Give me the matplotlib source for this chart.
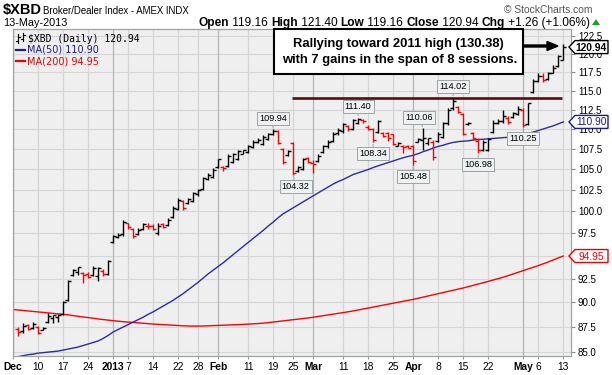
import matplotlib
matplotlib.use("Agg")
import matplotlib.pyplot as plt
from matplotlib.transforms import IdentityTransform
from matplotlib.patches import Polygon, Rectangle, FancyArrow
from matplotlib.lines import Line2D
from matplotlib.ticker import FixedLocator, FixedFormatter, NullLocator
import numpy as np
import pandas as pd

W, H = 612, 375
FONT = "Liberation Sans"

# ---------------- data ----------------
holidays = ["2012-12-25", "2013-01-01", "2013-01-21", "2013-02-18", "2013-03-29"]
dates = [d for d in pd.bdate_range("2012-12-03", "2013-05-13")
         if d.strftime("%Y-%m-%d") not in holidays]          # 111 sessions, Dec 3 .. May 13

first_prev_close = 87.4   # Dec 3 close (bar itself sits on the frame edge)

# OHLC from Dec 4 2012 to May 13 2013
opens = [87.3, 87.1, 87.7, 87.4, 87.5, 87.2, 88.0, 88.4, 88.5, 88.8,
         90.2, 92.9, 93.2, 93.1, 93.0, 92.9, 92.8, 93.3, 93.0, 96.5,
         97.1, 97.4, 98.6, 98.0, 97.4, 98.0, 98.35, 98.3, 97.5, 98.5,
         98.4, 99.3, 100.3, 101.2, 101.0, 101.2, 102.0, 102.6, 103.8, 104.0,
         105.2, 105.2, 105.4, 105.9, 106.3, 106.9, 107.1, 107.7, 108.3, 108.1,
         108.7, 109.3, 109.7, 107.5, 106.7, 108.2, 104.8, 105.0, 106.4, 105.8,
         106.0, 107.1, 107.8, 108.5, 109.5, 109.8, 110.4, 110.0, 110.8, 111.2,
         110.3, 110.0, 109.6, 109.5, 109.5, 109.3, 107.9, 107.9, 107.9, 107.8,
         108.4, 108.6, 108.2, 108.3, 108.5, 109.0, 110.7, 112.7, 112.8, 111.9,
         110.6, 109.5, 108.5, 107.4, 107.4, 109.6, 110.7, 111.0, 111.4, 111.5,
         111.9, 112.5, 110.6, 114.8, 116.3, 117.0, 116.5, 117.4, 118.3, 119.16]
highs = [87.45, 87.9, 87.8, 88.0, 87.6, 87.5, 88.9, 88.7, 88.75, 90.1,
         92.3, 93.5, 93.8, 93.2, 93.2, 93.9, 93.7, 93.5, 94.5, 97.3,
         97.5, 99.0, 98.7, 98.1, 98.1, 98.7, 98.6, 98.5, 98.6, 98.7,
         99.2, 100.6, 101.5, 101.3, 101.5, 102.3, 102.6, 104.1, 104.5, 105.1,
         106.3, 105.4, 106.8, 107.0, 107.4, 107.4, 108.0, 108.6, 108.8, 109.2,
         109.5, 109.94, 109.9, 107.6, 107.3, 108.4, 105.4, 106.4, 106.5, 106.1,
         106.8, 108.0, 108.6, 109.6, 110.1, 110.8, 110.5, 111.3, 111.40, 111.3,
         110.5, 110.1, 111.2, 109.6, 109.6, 109.4, 108.4, 108.0, 108.0, 108.0,
         108.9, 110.06, 108.9, 108.6, 109.6, 110.9, 112.7, 114.02, 112.9, 112.0,
         110.9, 109.6, 108.9, 108.6, 108.8, 111.2, 111.3, 112.5, 111.7, 112.2,
         112.9, 112.7, 113.4, 116.6, 117.3, 117.3, 117.5, 118.4, 119.8, 121.40]
lows = [86.55, 86.9, 87.2, 87.3, 86.8, 87.15, 87.9, 87.9, 88.0, 88.7,
        90.1, 92.8, 92.9, 92.0, 92.6, 92.8, 92.2, 92.8, 92.9, 96.4,
        97.0, 97.2, 98.0, 97.0, 97.3, 97.9, 98.0, 97.8, 97.3, 98.1,
        98.3, 99.2, 100.2, 100.1, 100.9, 101.1, 101.8, 102.5, 103.7, 103.9,
        105.1, 104.8, 105.3, 105.8, 106.1, 106.8, 107.0, 107.6, 108.2, 108.0,
        108.6, 109.2, 108.1, 105.6, 106.6, 104.32, 104.6, 104.9, 105.8, 104.5,
        105.9, 107.0, 107.6, 108.4, 109.2, 109.5, 109.7, 109.9, 110.6, 110.8,
        109.9, 108.34, 109.5, 109.0, 108.5, 108.0, 107.8, 107.0, 107.6, 105.48,
        108.3, 107.4, 108.0, 106.1, 108.4, 108.8, 110.5, 112.5, 112.0, 109.2,
        110.5, 108.6, 106.98, 107.2, 107.2, 109.5, 110.6, 110.8, 110.6, 111.4,
        111.8, 110.25, 110.5, 114.7, 116.2, 116.1, 116.4, 117.3, 118.2, 119.16]
closes = [86.95, 87.6, 87.3, 87.8, 86.9, 87.4, 88.6, 88.65, 88.7, 90.0,
          92.2, 93.4, 93.7, 92.9, 92.7, 93.6, 93.65, 93.0, 94.4, 97.2,
          97.3, 98.8, 98.2, 97.2, 97.9, 98.5, 98.3, 98.0, 98.3, 98.2,
          99.0, 100.4, 101.3, 100.4, 101.4, 102.1, 102.5, 103.9, 104.3, 104.9,
          106.2, 105.1, 106.6, 106.8, 107.2, 107.3, 107.9, 108.4, 108.6, 109.0,
          109.3, 109.8, 108.2, 105.9, 107.2, 104.5, 105.2, 106.2, 105.9, 105.6,
          106.6, 107.9, 108.3, 109.4, 109.9, 110.6, 110.0, 111.1, 111.3, 111.0,
          110.0, 108.6, 111.0, 109.1, 108.9, 108.1, 108.2, 107.7, 107.6, 106.0,
          108.7, 108.8, 108.85, 106.5, 109.4, 110.7, 112.5, 113.6, 112.2, 109.4,
          110.8, 108.8, 107.3, 108.4, 108.7, 110.8, 111.0, 111.6, 110.9, 112.0,
          112.6, 110.5, 113.3, 116.3, 117.0, 116.4, 117.3, 118.0, 119.68, 120.94]

# moving averages, Dec 3 .. May 13
ma50 = [84.4, 84.5, 84.6, 84.7, 84.75, 84.85, 84.9, 84.95, 85.0, 85.05,
        85.15, 85.25, 85.35, 85.45, 85.6, 85.75, 85.9, 86.05, 86.3, 86.6,
        86.95, 87.2, 87.45, 87.7, 87.95, 88.2, 88.45, 88.75, 89.0, 89.3,
        89.6, 89.9, 90.2, 90.55, 90.9, 91.3, 91.7, 92.1, 92.55, 93.0,
        93.4, 93.8, 94.2, 94.65, 95.1, 95.55, 96.0, 96.45, 96.9, 97.35,
        97.8, 98.3, 98.75, 99.25, 99.7, 100.05, 100.4, 100.75, 101.1, 101.45,
        101.8, 102.15, 102.5, 102.85, 103.2, 103.5, 103.75, 104.05, 104.35, 104.55,
        104.75, 104.95, 105.2, 105.4, 105.6, 105.8, 106.0, 106.2, 106.4, 106.55,
        106.7, 106.9, 107.15, 107.35, 107.6, 107.8, 107.95, 108.15, 108.3, 108.4,
        108.45, 108.5, 108.6, 108.65, 108.7, 108.75, 108.8, 108.85, 108.9, 108.95,
        109.0, 109.15, 109.3, 109.45, 109.6, 109.8, 110.0, 110.2, 110.4, 110.65,
        110.90]
ma200 = [89.25, 89.2, 89.15, 89.1, 89.05, 89.0, 88.95, 88.9, 88.85, 88.8,
         88.75, 88.7, 88.62, 88.55, 88.48, 88.42, 88.35, 88.28, 88.22, 88.16,
         88.1, 88.05, 88.0, 87.96, 87.92, 87.88, 87.84, 87.8, 87.76, 87.73,
         87.7, 87.67, 87.64, 87.61, 87.58, 87.56, 87.55, 87.55, 87.56, 87.58,
         87.6, 87.62, 87.64, 87.66, 87.68, 87.7, 87.72, 87.75, 87.78, 87.81,
         87.85, 87.9, 87.96, 88.02, 88.08, 88.14, 88.2, 88.26, 88.32, 88.38,
         88.45, 88.53, 88.61, 88.69, 88.77, 88.85, 88.93, 89.01, 89.1, 89.2,
         89.3, 89.4, 89.5, 89.6, 89.7, 89.8, 89.9, 90.0, 90.1, 90.2,
         90.3, 90.42, 90.54, 90.66, 90.78, 90.9, 91.02, 91.14, 91.26, 91.38,
         91.5, 91.64, 91.78, 91.92, 92.06, 92.2, 92.35, 92.5, 92.65, 92.82,
         93.0, 93.18, 93.36, 93.54, 93.72, 93.9, 94.1, 94.3, 94.52, 94.74,
         94.95]

tick_dates = ["2012-12-03", "2012-12-10", "2012-12-17", "2012-12-24", "2013-01-02",
              "2013-01-07", "2013-01-14", "2013-01-22", "2013-01-28", "2013-02-01",
              "2013-02-11", "2013-02-19", "2013-02-25", "2013-03-01", "2013-03-11",
              "2013-03-18", "2013-03-25", "2013-04-01", "2013-04-08", "2013-04-15",
              "2013-04-22", "2013-05-01", "2013-05-06", "2013-05-13"]
tick_labels = ["Dec", "10", "17", "24", "2013", "7", "14", "22", "28", "Feb",
               "11", "19", "25", "Mar", "11", "18", "25", "Apr", "8", "15",
               "22", "May", "6", "13"]
bold_labels = {"Dec", "2013", "Feb", "Mar", "Apr", "May"}
y_ticks = [85.0, 87.5, 90.0, 92.5, 95.0, 97.5, 100.0, 102.5, 105.0, 107.5,
           110.0, 112.5, 115.0, 117.5, 120.0, 122.5]
hidden_y_labels = {95.0}   # covered by the MA(200) value tag

# (date, which) price call-outs
callouts = [("2013-02-19", "high"), ("2013-02-25", "low"), ("2013-03-14", "high"),
            ("2013-03-19", "low"), ("2013-04-01", "low"), ("2013-04-03", "high"),
            ("2013-04-11", "high"), ("2013-04-18", "low"), ("2013-05-01", "low")]
resistance = 114.02
resistance_span = ("2013-02-22", "2013-05-10")

note_lines = ["Rallying toward 2011 high (130.38)",
              "with 7 gains in the span of 8 sessions."]

# ---------------- figure ----------------
fig = plt.figure(figsize=(W / 100, H / 100), dpi=100)
fig.patch.set_facecolor("white")
ax = fig.add_axes([13 / W, 1 - 356 / H, (571 - 13) / W, (356 - 29) / H])
ax.set_facecolor("#efefef")

date_str = [d.strftime("%Y-%m-%d") for d in dates]
pos = {s: i for i, s in enumerate(date_str)}
xs = np.arange(len(dates))
bx = xs[1:]

prev = [first_prev_close] + closes[:-1]
cols = ["black" if c > p else "#ff0000" for c, p in zip(closes, prev)]

ax.set_yscale("log")
ax.set_ylim(84.57, 123.5)
ax.set_xlim(0, 111.55)

# grid
for t in y_ticks:
    ax.axhline(t, color="#d6d6d6", lw=0.8, zorder=0)
for d, lab in zip(tick_dates, tick_labels):
    c = "#b4b4b4" if lab in bold_labels else "#d6d6d6"
    ax.axvline(pos[d], color=c, lw=0.9, zorder=0)

# moving averages
ax.plot(xs, ma200, color="#ff0000", lw=1.0, zorder=2)
ax.plot(xs, ma50, color="#2b2ba8", lw=1.0, zorder=2)

# resistance line
ax.hlines(resistance, pos[resistance_span[0]] + 0.7, pos[resistance_span[1]] + 0.7,
          color="#5a0c0c", lw=1.9, zorder=3)

# OHLC bars
lw_bar = 1.0
tick_len = 0.55
ax.vlines(bx, lows, highs, colors=cols, lw=lw_bar, zorder=4)
ax.hlines(opens, bx - tick_len, bx, colors=cols, lw=lw_bar, zorder=4)
ax.hlines(closes, bx, bx + tick_len, colors=cols, lw=lw_bar, zorder=4)

# axes styling
ax.yaxis.tick_right()
ax.yaxis.set_major_locator(FixedLocator(y_ticks))
ax.yaxis.set_major_formatter(FixedFormatter(
    ["" if t in hidden_y_labels else f"{t:.1f}" for t in y_ticks]))
ax.yaxis.set_minor_locator(NullLocator())
ax.tick_params(axis="y", which="major", length=3, color="#888888", pad=2,
               labelsize=7.0, labelcolor="black")
ax.set_xticks([pos[d] for d in tick_dates])
ax.set_xticklabels(tick_labels)
for lab in ax.get_xticklabels():
    lab.set_fontfamily(FONT)
    lab.set_fontsize(7.4)
    if lab.get_text() in bold_labels:
        lab.set_fontweight("bold")
for lab in ax.get_yticklabels():
    lab.set_fontfamily(FONT)
ax.tick_params(axis="x", length=2, color="#999999", pad=2)
for s in ax.spines.values():
    s.set_color("#9aa6a4")
    s.set_linewidth(0.9)

# price call-outs
for d, which in callouts:
    i = pos[d]
    val = highs[i - 1] if which == "high" else lows[i - 1]
    dx = {"2013-04-03": -4, "2013-02-25": 2.5}.get(d, 0)
    dy = 8.2 if which == "high" else -8.2
    ax.annotate(f"{val:.2f}", xy=(i, val), xytext=(dx * 0.72, dy),
                textcoords="offset points", ha="center", va="center",
                fontsize=6.6, fontfamily=FONT, zorder=6,
                bbox=dict(boxstyle="square,pad=0.22", fc="#eef2f2", ec="#9aa4a4", lw=0.7),
                arrowprops=dict(arrowstyle="-", color="#9aa4a4", lw=0.7,
                                shrinkA=0, shrinkB=1.5))

fig.canvas.draw()
renderer = fig.canvas.get_renderer()
ID = IdentityTransform()


def ytop(y):
    return H - y


def segs(x, y, parts, size, ha="left"):
    """draw text segments side by side; parts = (text, weight, color)"""
    arts = []
    widths = []
    for txt, wt, col in parts:
        t = fig.text(0, 0, txt, transform=ID, fontsize=size, fontweight=wt,
                     color=col, fontfamily=FONT, va="baseline")
        arts.append(t)
        widths.append(t.get_window_extent(renderer).width)
    total = sum(widths)
    cx = x - total if ha == "right" else x
    for t, w in zip(arts, widths):
        t.set_position((cx, ytop(y)))
        cx += w
    return cx


# header
segs(3, 14, [("$XBD", "bold", "black")], 10.5)
segs(43, 14, [("Broker/Dealer Index - AMEX INDX", "normal", "black")], 6.9)
segs(592, 13, [("\u00a9 StockCharts.com", "normal", "#555555")], 7.4, ha="right")
segs(3, 26, [("13-May-2013", "normal", "black")], 7.8)
segs(590, 26, [("Open", "bold", "black"), (" 119.16 ", "normal", "black"),
               ("High", "bold", "black"), (" 121.40 ", "normal", "black"),
               ("Low", "bold", "black"), (" 119.16 ", "normal", "black"),
               ("Close", "bold", "black"), (" 120.94 ", "normal", "black"),
               ("Chg", "bold", "black"), (" +1.26 (+1.06%)", "normal", "black")],
     8.6, ha="right")
fig.add_artist(Polygon([(592, ytop(25)), (600, ytop(25)), (596, ytop(19))],
                       closed=True, transform=ID, fc="#11aa11", ec="none"))

# legend inside plot
icon = [((18, 34), (18, 43)), ((16, 41), (18, 41)), ((18, 37), (20, 37)),
        ((23, 33), (23, 41)), ((21, 39), (23, 39)), ((23, 35), (25, 35))]
for (x0, y0), (x1, y1) in icon:
    fig.add_artist(Line2D([x0, x1], [ytop(y0), ytop(y1)], transform=ID,
                          color="black", lw=0.8))
fig.text(28, ytop(42), "$XBD (Daily) 120.94", transform=ID, fontsize=7.0,
         fontfamily="DejaVu Sans Mono", va="baseline", color="black")
fig.add_artist(Line2D([16, 25], [ytop(49.5), ytop(49.5)], transform=ID,
                      color="#1c1c96", lw=1.6))
fig.text(27, ytop(53), "MA(50) 110.90", transform=ID, fontsize=7.0,
         fontfamily="DejaVu Sans", va="baseline", color="#1c1c96")
fig.add_artist(Line2D([16, 25], [ytop(60.5), ytop(60.5)], transform=ID,
                      color="#ee0000", lw=1.6))
fig.text(27, ytop(64), "MA(200) 94.95", transform=ID, fontsize=7.0,
         fontfamily="DejaVu Sans", va="baseline", color="#ee0000")

# right-hand value tags
xr = ax.bbox.x1


def tag(val, txt, ec, tc, bold):
    _, yd = ax.transData.transform((0, val))
    h = 6.5
    pts = [(xr - 2, yd), (xr + 4, yd + h), (xr + 37, yd + h), (xr + 37, yd - h), (xr + 4, yd - h)]
    fig.add_artist(Polygon(pts, closed=True, transform=ID, fc="white", ec=ec, lw=1.0))
    fig.text(xr + 20.5, yd - 0.5, txt, transform=ID, ha="center", va="center",
             fontsize=7.4, fontweight="bold" if bold else "normal",
             fontfamily=FONT, color=tc)


tag(closes[-1], f"{closes[-1]:.2f}", "black", "black", True)
tag(ma50[-1], f"{ma50[-1]:.2f}", "#1c1c96", "#1c1c96", False)
tag(ma200[-1], f"{ma200[-1]:.2f}", "#ee0000", "#ee0000", False)

# annotation box + arrow
fig.add_artist(Rectangle((273.5, ytop(73.5)), 249.5, 44.5, transform=ID,
                         fc="white", ec="black", lw=1.5))
fig.text(398.5, ytop(47.5), note_lines[0], transform=ID, ha="center", va="baseline",
         fontsize=9.4, fontweight="bold", fontfamily=FONT)
fig.text(399.5, ytop(63), note_lines[1], transform=ID, ha="center", va="baseline",
         fontsize=9.4, fontweight="bold", fontfamily=FONT)
fig.add_artist(FancyArrow(523, ytop(46), 35, 0, width=2.0, head_width=9,
                          head_length=11, length_includes_head=True,
                          transform=ID, color="black"))

fig.savefig("out.png", dpi=100)
